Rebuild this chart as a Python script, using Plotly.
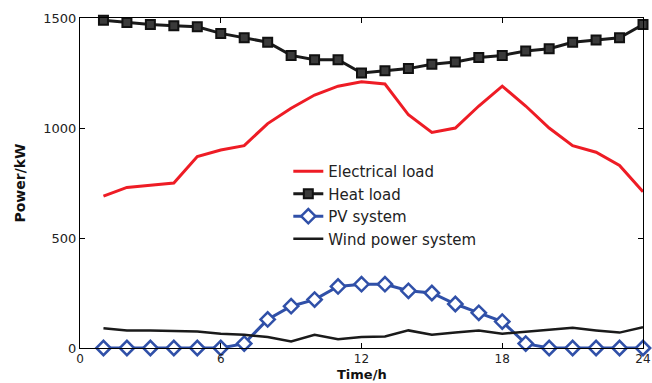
import plotly.graph_objects as go

hours = list(range(1, 25))
electrical_load = [690, 730, 740, 750, 870, 900, 920, 1020, 1090, 1150, 1190, 1210,
                   1200, 1060, 980, 1000, 1100, 1190, 1100, 1000, 920, 890, 830, 710]
heat_load = [1490, 1480, 1470, 1465, 1460, 1430, 1410, 1390, 1330, 1310, 1310, 1250,
             1260, 1270, 1290, 1300, 1320, 1330, 1350, 1360, 1390, 1400, 1410, 1470]
pv_system = [0, 0, 0, 0, 0, 0, 20, 130, 190, 220, 280, 290,
             290, 260, 250, 200, 160, 120, 20, 0, 0, 0, 0, 0]
wind_power = [90, 80, 80, 78, 75, 65, 60, 50, 30, 60, 40, 50,
              52, 80, 60, 70, 80, 65, 73, 83, 92, 80, 70, 95]

x_ticks = [0, 6, 12, 18, 24]
y_ticks = [0, 500, 1000, 1500]

FONT = "DejaVu Sans"

fig = go.Figure()
fig.add_trace(go.Scatter(x=hours, y=electrical_load, mode="lines", name="Electrical load",
                         line=dict(color="#ee1c25", width=3)))
fig.add_trace(go.Scatter(x=hours, y=heat_load, mode="lines+markers", name="Heat load",
                         cliponaxis=False,
                         line=dict(color="#1a1a1a", width=3),
                         marker=dict(symbol="square", size=9, color="#3a3a3a",
                                     line=dict(color="#111111", width=2))))
fig.add_trace(go.Scatter(x=hours, y=pv_system, mode="lines+markers", name="PV system",
                         cliponaxis=False,
                         line=dict(color="#3050a8", width=3),
                         marker=dict(symbol="diamond", size=11, color="#ffffff",
                                     line=dict(color="#3050a8", width=2.5))))
fig.add_trace(go.Scatter(x=hours, y=wind_power, mode="lines", name="Wind power system",
                         line=dict(color="#1a1a1a", width=2.5)))

axis_common = dict(showline=True, linecolor="#000000", linewidth=1, mirror="ticks",
                   ticks="inside", ticklen=5, tickcolor="#000000", showgrid=False,
                   zeroline=False, ticklabeloverflow="allow", automargin=False,
                   tickfont=dict(family=FONT, size=13, color="#222222"))

fig.update_layout(
    width=652, height=383,
    margin=dict(l=80, r=9, t=18, b=35),
    paper_bgcolor="white", plot_bgcolor="white",
    xaxis=dict(range=[0, 24], tickvals=x_ticks, ticklabelstandoff=0,
               **{**axis_common, "tickfont": dict(family=FONT, size=12, color="#222222")}),
    yaxis=dict(range=[0, 1500], tickvals=y_ticks, **axis_common,
               title=dict(text="<b>Power/kW</b>", standoff=14,
                          font=dict(family=FONT, size=14, color="#111111"))),
    legend=dict(x=0.37, y=0.585, xanchor="left", yanchor="top",
                bgcolor="rgba(0,0,0,0)", borderwidth=0,
                font=dict(family=FONT, size=15, color="#222222"),
                tracegroupgap=0),
    showlegend=True,
    annotations=[dict(text="<b>Time/h</b>", xref="paper", yref="paper",
                      x=0.5, y=0, yshift=-35, xanchor="center", yanchor="bottom",
                      showarrow=False, borderpad=0,
                      font=dict(family=FONT, size=13, color="#111111"))],
)

fig.write_html("out.html")
